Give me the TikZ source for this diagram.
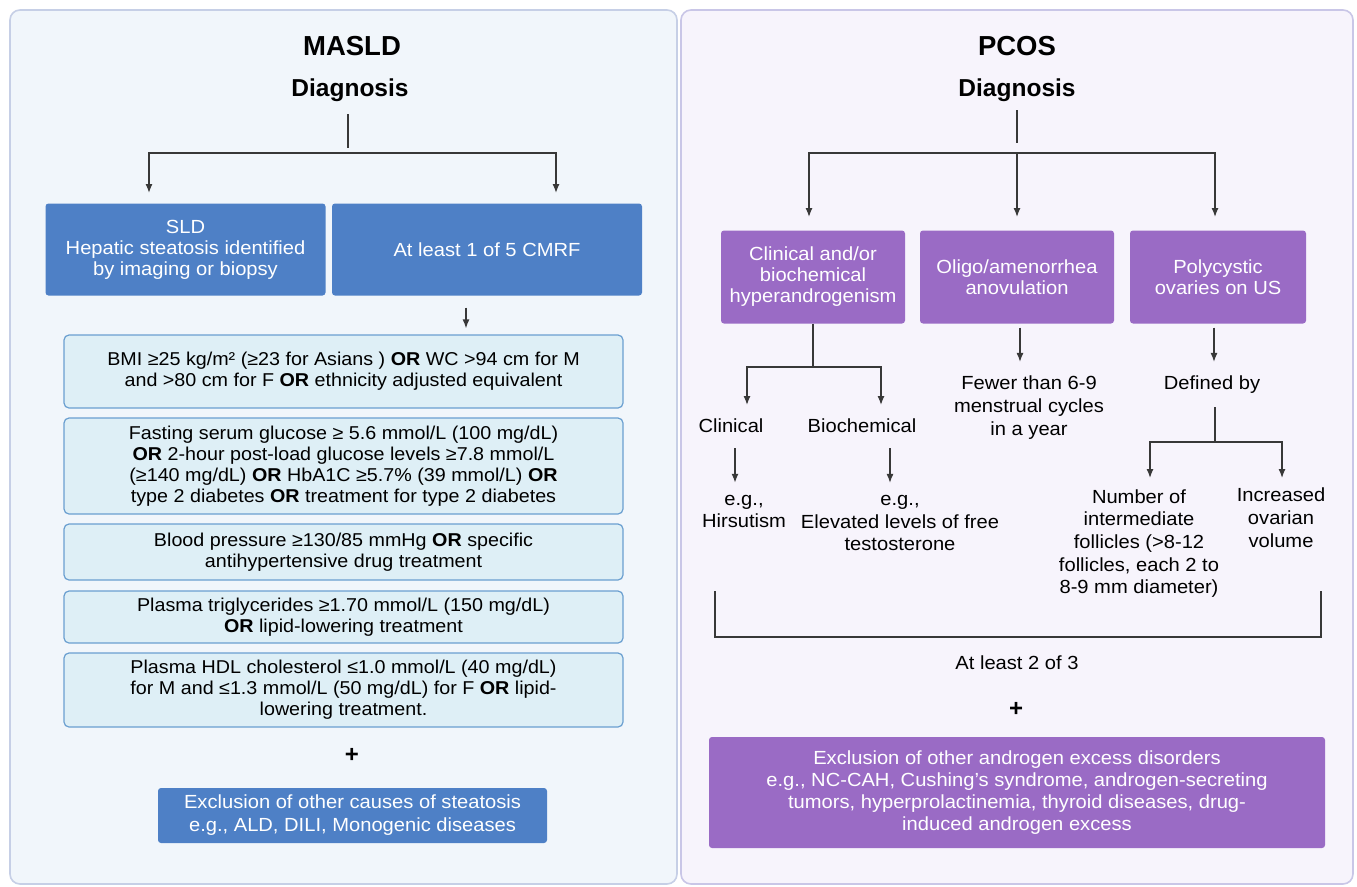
\documentclass[tikz,border=0pt]{standalone}
\usepackage{fontspec}
\setmainfont{Liberation Sans}[FakeStretch=1.06]
\newfontfamily\headfont{Liberation Sans}
\usetikzlibrary{arrows.meta}
\definecolor{panelA}{HTML}{F1F6FB}
\definecolor{panelAline}{HTML}{C6CFE6}
\definecolor{panelB}{HTML}{F7F4FC}
\definecolor{panelBline}{HTML}{C9C6E7}
\definecolor{boxblue}{HTML}{4E80C6}
\definecolor{boxpurple}{HTML}{9A6BC5}
\definecolor{critfill}{HTML}{DEEFF6}
\definecolor{critline}{HTML}{6A9FD0}
\definecolor{ink}{HTML}{383838}

\begin{document}
\begin{tikzpicture}[x=1pt,y=-1pt,
    head/.style={inner sep=2pt,font=\headfont\bfseries\fontsize{27.5}{32}\selectfont},
    subhead/.style={inner sep=2pt,font=\headfont\bfseries\fontsize{24.5}{28}\selectfont},
    bluebox/.style={fill=boxblue,text=white,rounded corners=3pt,align=center,inner sep=0pt,font=\fontsize{19}{21}\selectfont},
    exclbox/.style={fill=boxblue,text=white,rounded corners=3pt,align=center,inner sep=0pt,font=\fontsize{19}{23}\selectfont},
    purplebox/.style={fill=boxpurple,text=white,rounded corners=3pt,align=center,inner sep=0pt,font=\fontsize{19}{21}\selectfont},
    critbox/.style={fill=critfill,draw=critline,line width=1.2pt,rounded corners=5pt,align=center,inner sep=0pt,minimum width=559,font=\fontsize{18.6}{21}\selectfont},
    lbl/.style={align=center,inner sep=2pt,font=\fontsize{19}{22.7}\selectfont},
    plus/.style={font=\headfont\bfseries\fontsize{24}{26}\selectfont},
    ln/.style={draw=ink,line width=1.3pt},
    arr/.style={draw=ink,line width=1.3pt,-{Latex[length=9pt,width=7pt]}}]
    \fill[white] (0,0) rectangle (1357,886);
    \useasboundingbox (0,0) rectangle (1357,886);
    \draw[panelAline,fill=panelA,line width=1.6pt,rounded corners=10pt] (10,10) rectangle (677,884);
    \draw[panelBline,fill=panelB,line width=1.6pt,rounded corners=10pt] (681,10) rectangle (1353,884);

    % MASLD
    \node[head] (masld) at (352,46) {MASLD};
    \node[subhead] (dgL) at (350,90.6) {Diagnosis};
    \coordinate (forkL) at (348,153);
    \coordinate (tipSLD) at (149,193);
    \coordinate (tipCMRF) at (556,193);
    \draw[ln,shorten <=10pt,shorten >=5pt] (dgL.south -| forkL) -- (forkL);
    \draw[arr] (forkL) -| (tipSLD);
    \draw[arr] (forkL) -| (tipCMRF);
    \node[bluebox,minimum width=280,minimum height=92] (sld) at (185.5,249.5) {SLD\\Hepatic steatosis identified\\by imaging or biopsy};
    \node[bluebox,minimum width=310,minimum height=92] (cmrf) at (487,249.5) {At least 1 of 5 CMRF};
    \node[critbox,minimum height=73] (c1) at (343.5,371.5) {BMI ≥25 kg/m² (≥23 for Asians ) \textbf{OR} WC >94 cm for M\\and >80 cm for F \textbf{OR} ethnicity adjusted equivalent};
    \node[critbox,minimum height=96] (c2) at (343.5,466) {Fasting serum glucose ≥ 5.6 mmol/L (100 mg/dL)\\\textbf{OR} 2-hour post-load glucose levels ≥7.8 mmol/L\\(≥140 mg/dL) \textbf{OR} HbA1C ≥5.7\% (39 mmol/L) \textbf{OR}\\type 2 diabetes \textbf{OR} treatment for type 2 diabetes};
    \node[critbox,minimum height=56] (c3) at (343.5,552) {Blood pressure ≥130/85 mmHg \textbf{OR} specific\\antihypertensive drug treatment};
    \node[critbox,minimum height=52] (c4) at (343.5,617) {Plasma triglycerides ≥1.70 mmol/L (150 mg/dL)\\\textbf{OR} lipid-lowering treatment};
    \node[critbox,minimum height=74] (c5) at (343.5,690) {Plasma HDL cholesterol ≤1.0 mmol/L (40 mg/dL)\\for M and ≤1.3 mmol/L (50 mg/dL) for F \textbf{OR} lipid-\\lowering treatment.};
    \coordinate (cmrfAx) at (466,0);
    \draw[arr,shorten <=12pt,shorten >=6pt] (cmrf.south -| cmrfAx) -- (c1.north -| cmrfAx);
    \node[plus] (plusL) at (352,755) {+};
    \node[exclbox,minimum width=389,minimum height=55] (exclL) at (352.5,815.5) {Exclusion of other causes of steatosis\\e.g., ALD, DILI, Monogenic diseases};

    % PCOS
    \node[head] (pcos) at (1017,46) {PCOS};
    \node[subhead] (dgR) at (1017,90.6) {Diagnosis};
    \coordinate (forkR) at (1017,153);
    \coordinate (tipP1) at (809,217);
    \coordinate (tipP2) at (1017,217);
    \coordinate (tipP3) at (1215,217);
    \draw[ln,shorten <=6pt,shorten >=10pt] (dgR.south) -- (forkR);
    \draw[arr] (forkR) -| (tipP1);
    \draw[arr] (forkR) -- (tipP2);
    \draw[arr] (forkR) -| (tipP3);
    \node[purplebox,minimum width=184,minimum height=93] (p1) at (813,277) {Clinical and/or\\biochemical\\hyperandrogenism};
    \node[purplebox,minimum width=194,minimum height=93] (p2) at (1017,277) {Oligo/amenorrhea\\anovulation};
    \node[purplebox,minimum width=176,minimum height=93] (p3) at (1218,277) {Polycystic\\ovaries on US};

    \coordinate (forkH) at (813,367);
    \coordinate (tipClin) at (747,405);
    \coordinate (tipBio) at (881,405);
    \draw[ln] (p1.south) -- (forkH);
    \draw[arr] (forkH) -| (tipClin);
    \draw[arr] (forkH) -| (tipBio);
    \node[lbl] (clin) at (731,426) {Clinical};
    \node[lbl] (bioc) at (862,426) {Biochemical};
    \node[lbl] (hirs) at (744,511.5) {e.g.,\\Hirsutism};
    \node[lbl] (testo) at (900,523) {e.g.,\\Elevated levels of free\\testosterone};
    \coordinate (clinAx) at (735,0);
    \coordinate (bioAx) at (890,0);
    \draw[arr,shorten <=13pt,shorten >=10pt] (clin.south -| clinAx) -- (hirs.north -| clinAx);
    \draw[arr,shorten <=13pt,shorten >=10pt] (bioc.south -| bioAx) -- (testo.north -| bioAx);

    \node[lbl] (fewer) at (1029,407.7) {Fewer than 6-9\\menstrual cycles\\in a year};
    \coordinate (p2Ax) at (1020,0);
    \draw[arr,shorten <=4pt,shorten >=12pt] (p2.south -| p2Ax) -- (fewer.north -| p2Ax);

    \node[lbl] (defby) at (1212,385) {Defined by};
    \coordinate (p3Ax) at (1214,0);
    \draw[arr,shorten <=4pt,shorten >=12pt] (p3.south -| p3Ax) -- (defby.north -| p3Ax);
    \coordinate (forkD) at (1215,442);
    \coordinate (tipFoll) at (1150,478);
    \coordinate (tipVol) at (1282,478);
    \draw[ln,shorten <=11pt] (defby.south -| forkD) -- (forkD);
    \draw[arr] (forkD) -| (tipFoll);
    \draw[arr] (forkD) -| (tipVol);
    \node[lbl] (foll) at (1139,543.5) {Number of\\intermediate\\follicles (>8-12\\follicles, each 2 to\\8-9 mm diameter)};
    \node[lbl] (incr) at (1281,517.8) {Increased\\ovarian\\volume};

    \coordinate (brL) at (715,591);
    \coordinate (brB) at (1017,637);
    \coordinate (brR) at (1321,591);
    \draw[ln] (brL) |- (brB) -| (brR);
    \node[lbl] (twoof) at (1017,663) {At least 2 of 3};
    \node[plus] (plusR) at (1016,709) {+};
    \node[purplebox,minimum width=616,minimum height=111,font=\fontsize{19}{22}\selectfont] (exclR) at (1017,792.5) {Exclusion of other androgen excess disorders\\e.g., NC-CAH, Cushing's syndrome, androgen-secreting\\tumors, hyperprolactinemia, thyroid diseases, drug-\\induced androgen excess};
\end{tikzpicture}
\end{document}
